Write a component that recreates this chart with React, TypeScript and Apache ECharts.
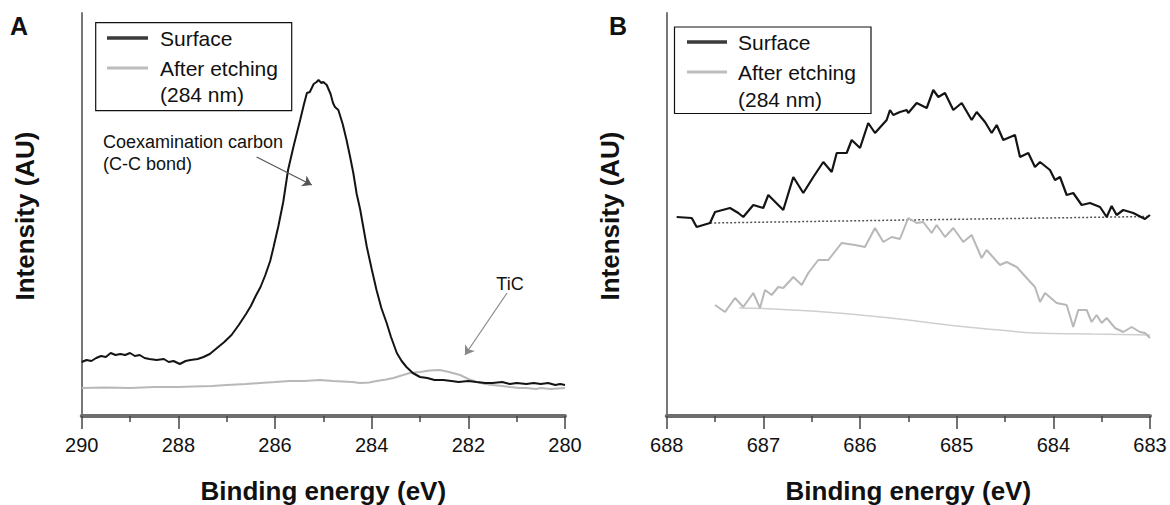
import React, { useEffect, useRef } from "react";
import * as echarts from "echarts";

// ---------- Panel A: C 1s ----------
const aSurfaceEnergy = [290.0, 289.9, 289.8, 289.7, 289.6, 289.5, 289.4, 289.3, 289.2, 289.1, 289.0, 288.9, 288.8, 288.7, 288.6, 288.45, 288.3, 288.2, 288.1, 287.97, 287.85, 287.75, 287.6, 287.48, 287.35, 287.2, 287.05, 286.9, 286.75, 286.6, 286.5, 286.4, 286.3, 286.2, 286.1, 286.03, 285.93, 285.83, 285.73, 285.62, 285.48, 285.4, 285.34, 285.28, 285.2, 285.14, 285.1, 285.04, 285.0, 284.93, 284.85, 284.8, 284.76, 284.69, 284.6, 284.52, 284.45, 284.38, 284.31, 284.24, 284.17, 284.1, 284.0, 283.9, 283.8, 283.69, 283.6, 283.48, 283.38, 283.28, 283.15, 283.0, 282.85, 282.7, 282.52, 282.35, 282.2, 282.0, 281.83, 281.65, 281.5, 281.3, 281.14, 281.0, 280.8, 280.65, 280.5, 280.35, 280.2, 280.1, 280.0];
const aSurfaceIntensity = [54, 56, 55, 58, 60, 59, 63, 61, 62, 61, 63, 60, 61, 58, 57, 56, 57, 54, 55, 52, 55, 56, 57, 59, 62, 68, 74, 81, 91, 102, 110, 120, 129, 141, 155, 169, 190, 214, 246, 269, 296, 312, 323, 324, 332, 334, 336, 333, 334, 331, 322, 313, 309, 306, 292, 276, 260, 243, 222, 207, 188, 169, 147, 126, 108, 93, 79, 63, 55, 49, 43, 39, 38, 36, 36, 35, 34, 35, 34, 33, 33, 34, 32, 33, 32, 33, 32, 33, 31, 32, 31];

const aEtchEnergy = [290, 289.5, 289, 288.5, 288, 287.69, 287.3, 287, 286.6, 286.31, 286, 285.7, 285.4, 285.07, 284.8, 284.6, 284.4, 284.24, 284.05, 283.9, 283.7, 283.55, 283.35, 283.21, 283.0, 282.8, 282.59, 282.4, 282.17, 282.0, 281.83, 281.65, 281.5, 281.3, 281.14, 280.95, 280.8, 280.6, 280.5, 280.3, 280.0];
const aEtchIntensity = [28, 28.5, 28, 29, 29, 29.5, 30, 31, 32, 33, 34, 35, 35, 36, 35, 34.5, 34, 33, 33.5, 35, 36.5, 38, 41, 43, 44, 45.5, 46, 44, 41, 37, 34, 32, 31, 30, 29, 28, 28, 27, 28, 27, 28];

const aTicks = [290, 288, 286, 284, 282, 280];

// ---------- Panel B: F 1s ----------
const bSurfaceEnergy = [687.897, 687.741, 687.69, 687.552, 687.5, 687.345, 687.259, 687.208, 687.104, 687.001, 686.949, 686.794, 686.69, 686.587, 686.483, 686.38, 686.293, 686.241, 686.138, 686.086, 686.0, 685.915, 685.845, 685.724, 685.69, 685.656, 685.587, 685.517, 685.501, 685.414, 685.31, 685.242, 685.19, 685.121, 685.035, 684.948, 684.845, 684.793, 684.707, 684.638, 684.586, 684.518, 684.397, 684.345, 684.259, 684.19, 684.138, 684.035, 683.983, 683.931, 683.862, 683.794, 683.707, 683.621, 683.517, 683.448, 683.397, 683.345, 683.277, 683.173, 683.052, 683.0];
const bSurfaceIntensity = [199, 198, 189, 193, 204, 208, 203, 199, 211, 208, 221, 206, 239, 223, 239, 254, 244, 263, 263, 276, 268, 293, 283, 296, 306, 301, 304, 306, 303, 313, 308, 326, 319, 323, 306, 313, 296, 304, 294, 283, 291, 276, 281, 259, 263, 249, 254, 246, 236, 239, 221, 223, 211, 213, 209, 199, 210, 201, 206, 203, 197, 201];

const bSurfaceBaseEnergy = [687.55, 685.5, 683.0];
const bSurfaceBaseIntensity = [193, 196, 199.5];

const bEtchEnergy = [687.5, 687.397, 687.293, 687.208, 687.104, 687.035, 686.983, 686.914, 686.846, 686.794, 686.69, 686.603, 686.535, 686.432, 686.328, 686.19, 686.052, 685.949, 685.845, 685.759, 685.672, 685.587, 685.501, 685.414, 685.346, 685.259, 685.207, 685.121, 685.035, 684.932, 684.845, 684.742, 684.69, 684.552, 684.483, 684.379, 684.276, 684.19, 684.138, 684.086, 683.966, 683.862, 683.794, 683.742, 683.655, 683.604, 683.552, 683.5, 683.448, 683.362, 683.277, 683.19, 683.104, 683.052, 683.0];
const bEtchIntensity = [111, 104, 118, 109, 123, 108, 126, 121, 129, 128, 139, 131, 143, 156, 156, 173, 171, 169, 188, 174, 179, 177, 198, 193, 194, 183, 191, 179, 188, 174, 181, 158, 166, 151, 154, 149, 138, 129, 114, 123, 113, 111, 89, 106, 106, 94, 101, 93, 98, 88, 84, 89, 84, 83, 78];

const bEtchBaseEnergy = [687.25, 687.0, 686.5, 686.0, 685.5, 685.0, 684.5, 684.2, 683.6, 683.0];
const bEtchBaseIntensity = [108, 107.5, 105, 101, 96, 90, 85.5, 83, 82, 81];

const bTicks = [688, 687, 686, 685, 684, 683];

const seriesNames = ["Surface", "After etching", "(284 nm)"];
const annotationCarbon = ["Coexamination carbon", "(C-C bond)"];
const annotationTiC = "TiC";
const xTitle = "Binding energy (eV)";
const yTitle = "Intensity (AU)";

function zip(xs: number[], ys: number[]) {
  const n = Math.min(xs.length, ys.length);
  const out: number[][] = [];
  for (let i = 0; i < n; i++) out.push([xs[i], ys[i]]);
  return out;
}

const FONT = 'Arial, "Liberation Sans", sans-serif';

export default function App() {
  const ref = useRef<HTMLDivElement>(null);
  useEffect(() => {
    if (!ref.current) return;
    const chart = echarts.init(ref.current, undefined, { renderer: "svg" });

    const xAxisCommon = (gridIndex: number, min: number, max: number, interval: number, ticks: number[]) => ({
      type: "value",
      gridIndex,
      min,
      max,
      interval,
      inverse: true,
      axisLine: { show: true, onZero: false, lineStyle: { color: "#6e6e6e", width: 4 } },
      axisTick: { show: true, length: 13, lineStyle: { color: "#444", width: 1.5 } },
      minorTick: { show: true, splitNumber: 2, length: 6, lineStyle: { color: "#444", width: 1.5 } },
      splitLine: { show: false },
      minorSplitLine: { show: false },
      axisLabel: {
        margin: 19,
        fontSize: 20,
        fontFamily: FONT,
        color: "#111",
        formatter: (v: number) => (ticks.includes(Math.round(v)) ? String(Math.round(v)) : ""),
      },
    });
    const yAxisCommon = (gridIndex: number) => ({
      type: "value",
      gridIndex,
      min: 0,
      max: 403,
      axisLine: { show: true, lineStyle: { color: "#777", width: 2 } },
      axisTick: { show: false },
      axisLabel: { show: false },
      splitLine: { show: false },
    });

    const txt = (x: number, y: number, text: string, size: number, opts: any = {}) => ({
      type: "text",
      x,
      y,
      silent: true,
      style: {
        text,
        fontSize: size,
        fontFamily: FONT,
        fill: "#111",
        textAlign: "left",
        textVerticalAlign: "middle",
        ...opts,
      },
    });

    const legend = (bx: number, by: number, bw: number, bh: number, lx1: number, lx2: number, tx: number, y1: number, y2: number, y3: number) => [
      { type: "rect", silent: true, shape: { x: bx, y: by, width: bw, height: bh }, style: { fill: "#fff", stroke: "#111", lineWidth: 1.2 }, z: 10 },
      { type: "line", silent: true, shape: { x1: lx1, y1: y1, x2: lx2, y2: y1 }, style: { stroke: "#3a3a3a", lineWidth: 3.5 }, z: 11 },
      { type: "line", silent: true, shape: { x1: lx1, y1: y2, x2: lx2, y2: y2 }, style: { stroke: "#bdbdbd", lineWidth: 3 }, z: 11 },
      { ...txt(tx, y1, seriesNames[0], 21), z: 11 },
      { ...txt(tx, y2, seriesNames[1], 21), z: 11 },
      { ...txt(tx, y3, seriesNames[2], 21), z: 11 },
    ];

    chart.setOption({
      animation: false,
      backgroundColor: "#ffffff",
      grid: [
        { left: 81.7, top: 13, width: 483.3, height: 403 },
        { left: 666.7, top: 13, width: 483.3, height: 403 },
      ],
      xAxis: [xAxisCommon(0, 280, 290, 2, aTicks), xAxisCommon(1, 683, 688, 1, bTicks)],
      yAxis: [yAxisCommon(0), yAxisCommon(1)],
      series: [
        {
          name: "A after etching",
          type: "line",
          xAxisIndex: 0,
          yAxisIndex: 0,
          data: zip(aEtchEnergy, aEtchIntensity),
          showSymbol: false,
          smooth: false,
          color: "#b8b8b8",
          lineStyle: { color: "#b8b8b8", width: 2 },
          z: 2,
        },
        {
          name: "A surface",
          type: "line",
          xAxisIndex: 0,
          yAxisIndex: 0,
          data: zip(aSurfaceEnergy, aSurfaceIntensity),
          showSymbol: false,
          color: "#141414",
          lineStyle: { color: "#141414", width: 2 },
          z: 3,
          markLine: {
            silent: true,
            symbol: ["none", "arrow"],
            symbolSize: 9,
            label: { show: false },
            data: [
              [
                { coord: [286.38, 259], lineStyle: { color: "#555", width: 1.2, type: "solid" } },
                { coord: [285.24, 231] },
              ],
              [
                { coord: [281.2, 123], lineStyle: { color: "#888", width: 1.2, type: "solid" } },
                { coord: [282.07, 61] },
              ],
            ],
          },
        },
        {
          name: "B surface baseline",
          type: "line",
          xAxisIndex: 1,
          yAxisIndex: 1,
          data: zip(bSurfaceBaseEnergy, bSurfaceBaseIntensity),
          showSymbol: false,
          color: "#555",
          lineStyle: { color: "#555", width: 1.5, type: [2, 2] },
          z: 2,
        },
        {
          name: "B etch baseline",
          type: "line",
          xAxisIndex: 1,
          yAxisIndex: 1,
          data: zip(bEtchBaseEnergy, bEtchBaseIntensity),
          showSymbol: false,
          smooth: true,
          color: "#cfcfcf",
          lineStyle: { color: "#cfcfcf", width: 1.5 },
          z: 2,
        },
        {
          name: "B after etching",
          type: "line",
          xAxisIndex: 1,
          yAxisIndex: 1,
          data: zip(bEtchEnergy, bEtchIntensity),
          showSymbol: false,
          color: "#b8b8b8",
          lineStyle: { color: "#b8b8b8", width: 2 },
          z: 3,
        },
        {
          name: "B surface",
          type: "line",
          xAxisIndex: 1,
          yAxisIndex: 1,
          data: zip(bSurfaceEnergy, bSurfaceIntensity),
          showSymbol: false,
          color: "#141414",
          lineStyle: { color: "#141414", width: 2.2 },
          z: 4,
        },
      ],
      graphic: [
        txt(10, 26, "A", 25, { fontWeight: "bold" }),
        txt(609, 26, "B", 25, { fontWeight: "bold" }),
        { ...txt(25, 216, yTitle, 26, { fontWeight: "bold", textAlign: "center" }), rotation: Math.PI / 2 },
        { ...txt(610, 216, yTitle, 26, { fontWeight: "bold", textAlign: "center" }), rotation: Math.PI / 2 },
        txt(323.3, 491, xTitle, 26, { fontWeight: "bold", textAlign: "center" }),
        txt(908.3, 491, xTitle, 26, { fontWeight: "bold", textAlign: "center" }),
        txt(103, 141.7, annotationCarbon[0], 18),
        txt(103, 163.5, annotationCarbon[1], 18),
        txt(510, 283.5, annotationTiC, 18, { textAlign: "center" }),
        ...legend(95.7, 22.7, 196, 88, 107, 148, 160, 38, 68, 94),
        ...legend(674.5, 27, 196.5, 86.5, 687, 727, 738, 42, 72, 99),
      ],
    });
    return () => chart.dispose();
  }, []);

  return (
    <div
      ref={ref}
      style={{ position: "fixed", left: 0, top: 0, width: 1170, height: 505, background: "#fff" }}
    />
  );
}
